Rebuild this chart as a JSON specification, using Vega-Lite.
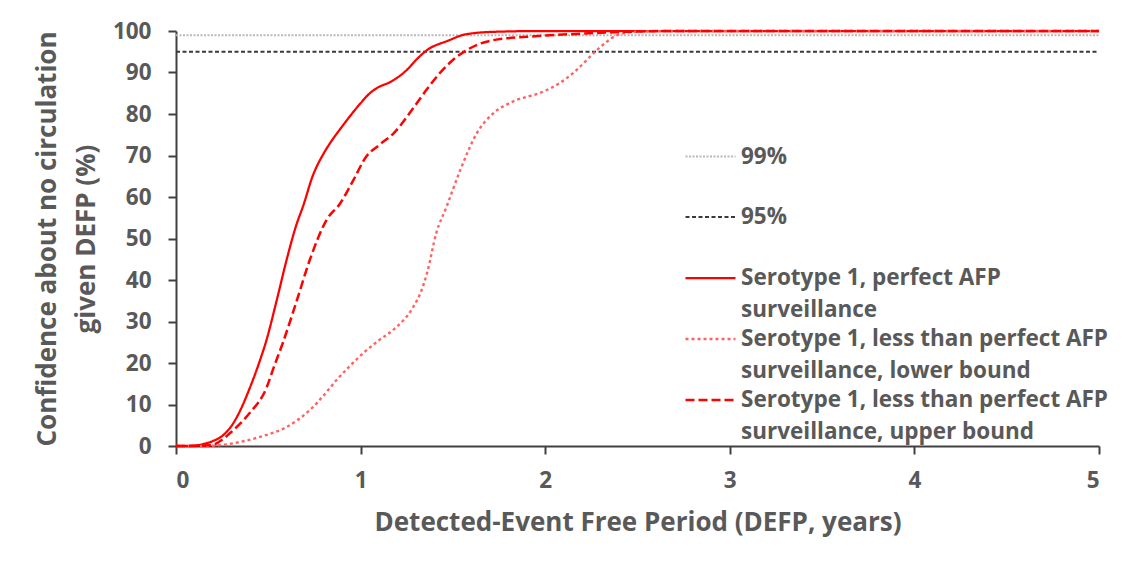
{
  "$schema": "https://vega.github.io/schema/vega-lite/v6.json",
  "width": 923,
  "height": 415,
  "autosize": {"type": "none"},
  "padding": {"left": 176, "top": 31, "right": 34, "bottom": 119},
  "background": "white",
  "config": {
    "view": {"stroke": null},
    "font": "Open Sans",
    "axis": {
      "domainColor": "#404040",
      "domainWidth": 2,
      "tickColor": "#404040",
      "tickWidth": 2,
      "tickSize": 8,
      "grid": false,
      "labelFont": "Open Sans",
      "labelFontWeight": "bold",
      "labelFontSize": 22.5,
      "labelColor": "#595959",
      "titleFont": "Open Sans",
      "titleFontWeight": "bold",
      "titleFontSize": 26,
      "titleColor": "#595959"
    }
  },
  "data": {
    "values": [
      {"s": "99%", "x": 0, "y": 99}, {"s": "99%", "x": 5, "y": 99},
      {"s": "95%", "x": 0, "y": 95}, {"s": "95%", "x": 5, "y": 95},

      {"s": "perfect", "x": 0, "y": 0}, {"s": "perfect", "x": 0.1, "y": 0.1}, {"s": "perfect", "x": 0.15, "y": 0.5}, {"s": "perfect", "x": 0.2, "y": 1.2}, {"s": "perfect", "x": 0.25, "y": 2.4}, {"s": "perfect", "x": 0.3, "y": 4.8}, {"s": "perfect", "x": 0.336, "y": 7.5}, {"s": "perfect", "x": 0.4, "y": 14}, {"s": "perfect", "x": 0.45, "y": 20}, {"s": "perfect", "x": 0.49, "y": 25.5}, {"s": "perfect", "x": 0.545, "y": 35}, {"s": "perfect", "x": 0.6, "y": 45}, {"s": "perfect", "x": 0.65, "y": 53}, {"s": "perfect", "x": 0.69, "y": 58}, {"s": "perfect", "x": 0.74, "y": 65}, {"s": "perfect", "x": 0.8, "y": 70.5}, {"s": "perfect", "x": 0.835, "y": 73}, {"s": "perfect", "x": 0.9, "y": 77}, {"s": "perfect", "x": 1.0, "y": 82.6}, {"s": "perfect", "x": 1.05, "y": 85}, {"s": "perfect", "x": 1.09, "y": 86.3}, {"s": "perfect", "x": 1.16, "y": 87.7}, {"s": "perfect", "x": 1.25, "y": 90.6}, {"s": "perfect", "x": 1.3, "y": 93}, {"s": "perfect", "x": 1.36, "y": 95.4}, {"s": "perfect", "x": 1.47, "y": 97.6}, {"s": "perfect", "x": 1.57, "y": 99.2}, {"s": "perfect", "x": 1.72, "y": 99.8}, {"s": "perfect", "x": 2, "y": 100}, {"s": "perfect", "x": 5, "y": 100},

      {"s": "lower", "x": 0, "y": 0}, {"s": "lower", "x": 0.15, "y": 0}, {"s": "lower", "x": 0.24, "y": 0.2}, {"s": "lower", "x": 0.35, "y": 1}, {"s": "lower", "x": 0.455, "y": 2.2}, {"s": "lower", "x": 0.6, "y": 4.6}, {"s": "lower", "x": 0.726, "y": 8.7}, {"s": "lower", "x": 0.8, "y": 12.2}, {"s": "lower", "x": 0.87, "y": 15.9}, {"s": "lower", "x": 0.94, "y": 19.2}, {"s": "lower", "x": 1.015, "y": 22.4}, {"s": "lower", "x": 1.1, "y": 25.5}, {"s": "lower", "x": 1.177, "y": 28}, {"s": "lower", "x": 1.285, "y": 33.5}, {"s": "lower", "x": 1.33, "y": 37.5}, {"s": "lower", "x": 1.36, "y": 41.7}, {"s": "lower", "x": 1.41, "y": 51.3}, {"s": "lower", "x": 1.466, "y": 57.7}, {"s": "lower", "x": 1.54, "y": 66.5}, {"s": "lower", "x": 1.63, "y": 75.4}, {"s": "lower", "x": 1.72, "y": 80.2}, {"s": "lower", "x": 1.825, "y": 83}, {"s": "lower", "x": 1.99, "y": 85.4}, {"s": "lower", "x": 2.08, "y": 87.5}, {"s": "lower", "x": 2.17, "y": 90.6}, {"s": "lower", "x": 2.28, "y": 95.4}, {"s": "lower", "x": 2.39, "y": 99}, {"s": "lower", "x": 2.48, "y": 99.8}, {"s": "lower", "x": 2.7, "y": 100}, {"s": "lower", "x": 5, "y": 100},

      {"s": "upper", "x": 0, "y": 0}, {"s": "upper", "x": 0.15, "y": 0.1}, {"s": "upper", "x": 0.2, "y": 0.3}, {"s": "upper", "x": 0.25, "y": 1.5}, {"s": "upper", "x": 0.29, "y": 3}, {"s": "upper", "x": 0.35, "y": 5.5}, {"s": "upper", "x": 0.4, "y": 8}, {"s": "upper", "x": 0.49, "y": 14}, {"s": "upper", "x": 0.53, "y": 19}, {"s": "upper", "x": 0.58, "y": 25}, {"s": "upper", "x": 0.654, "y": 35}, {"s": "upper", "x": 0.726, "y": 45}, {"s": "upper", "x": 0.816, "y": 54.5}, {"s": "upper", "x": 0.89, "y": 58.5}, {"s": "upper", "x": 0.96, "y": 64}, {"s": "upper", "x": 1.03, "y": 69.7}, {"s": "upper", "x": 1.1, "y": 72.5}, {"s": "upper", "x": 1.18, "y": 75.4}, {"s": "upper", "x": 1.29, "y": 81.7}, {"s": "upper", "x": 1.36, "y": 86}, {"s": "upper", "x": 1.43, "y": 89.9}, {"s": "upper", "x": 1.5, "y": 93}, {"s": "upper", "x": 1.575, "y": 95.4}, {"s": "upper", "x": 1.65, "y": 97}, {"s": "upper", "x": 1.72, "y": 97.8}, {"s": "upper", "x": 1.9, "y": 98.6}, {"s": "upper", "x": 2.17, "y": 99.3}, {"s": "upper", "x": 2.44, "y": 99.8}, {"s": "upper", "x": 2.7, "y": 100}, {"s": "upper", "x": 5, "y": 100}
    ]
  },
  "mark": {"type": "line", "interpolate": "monotone", "clip": false},
  "encoding": {
    "x": {
      "field": "x", "type": "quantitative",
      "scale": {"domain": [0, 5], "nice": false, "zero": true},
      "axis": {"values": [0, 1, 2, 3, 4, 5], "labelPadding": 15, "title": "Detected-Event Free Period (DEFP, years)", "titlePadding": 18}
    },
    "y": {
      "field": "y", "type": "quantitative",
      "scale": {"domain": [0, 100], "nice": false},
      "axis": {"values": [0, 10, 20, 30, 40, 50, 60, 70, 80, 90, 100], "labelPadding": 17, "title": ["Confidence about no circulation", "given DEFP (%)"], "titleLineHeight": 39, "titlePadding": 13}
    },
    "order": {"field": "x", "type": "quantitative"},
    "color": {
      "field": "s", "type": "nominal",
      "scale": {"domain": ["99%", "95%", "perfect", "lower", "upper"], "range": ["#b8b8b8", "#3a3a3a", "#ff0000", "#ff6262", "#ff0000"]},
      "legend": {
        "orient": "none",
        "legendX": 508,
        "legendY": 112,
        "title": null,
        "padding": 0,
        "symbolType": "M-1,0H3",
        "symbolSize": 625,
        "symbolStrokeWidth": 2.5,
        "labelFont": "Open Sans",
        "labelFontWeight": "bold",
        "labelFontSize": 22.5,
        "labelColor": "#595959",
        "labelOffset": 29,
        "labelLimit": 0,
        "labelBaseline": "middle",
        "rowPadding": 3,
        "labelExpr": "datum.value == 'perfect' ? ['Serotype 1, perfect AFP', 'surveillance'] : datum.value == 'lower' ? ['Serotype 1, less than perfect AFP', 'surveillance, lower bound'] : datum.value == 'upper' ? ['Serotype 1, less than perfect AFP', 'surveillance, upper bound'] : [datum.value, '']",
        "encode": {"labels": {"update": {"lineHeight": {"value": 32}}}}
      }
    },
    "strokeDash": {
      "field": "s", "type": "nominal",
      "scale": {"domain": ["99%", "95%", "perfect", "lower", "upper"], "range": [[2, 1.5], [4, 2.5], [1, 0], [3, 3], [9, 4]]},
      "legend": null
    },
    "strokeWidth": {
      "field": "s", "type": "nominal",
      "scale": {"domain": ["99%", "95%", "perfect", "lower", "upper"], "range": [2, 2.5, 3, 3, 3]},
      "legend": null
    }
  }
}
